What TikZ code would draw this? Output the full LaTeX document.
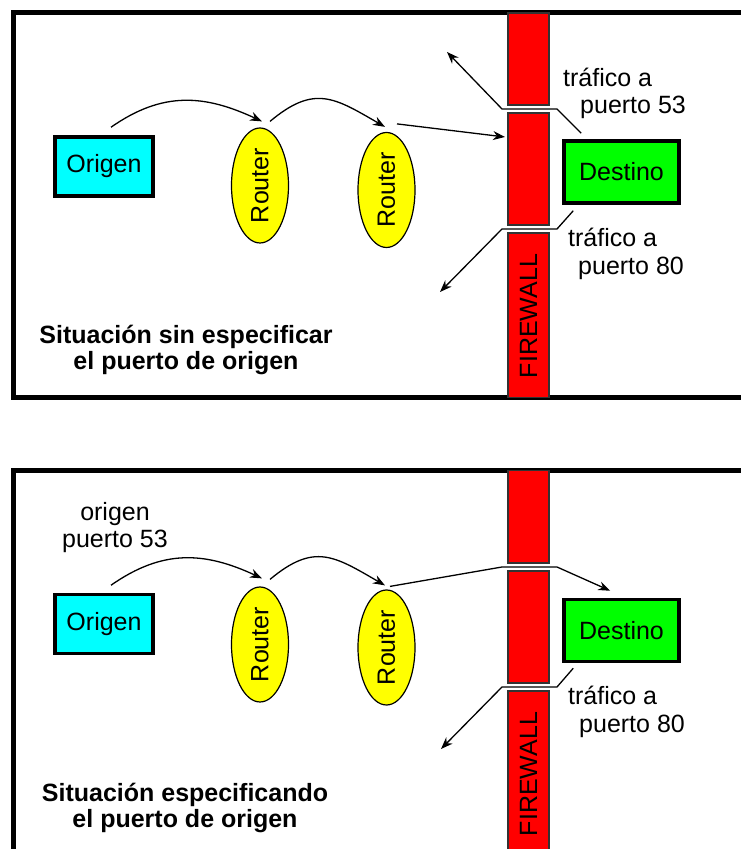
\documentclass[tikz,border=0pt]{standalone}
\usepackage{graphicx}
\usepackage{fontspec}
\setmainfont{Liberation Sans}
\usetikzlibrary{arrows.meta,positioning,shapes.geometric,calc}
\definecolor{hostcyan}{RGB}{0,255,255}
\definecolor{hostgreen}{RGB}{0,255,0}
\definecolor{routeryellow}{RGB}{255,255,0}
\definecolor{wallred}{RGB}{255,0,0}

\begin{document}
\begin{tikzpicture}[x=1pt, y=1pt,
  every node/.style={font=\fontsize{25}{27.5}\selectfont},
  frame/.style={line width=5pt},
  host/.style={draw, line width=3.5pt, minimum width=98pt, minimum height=59pt, inner sep=0pt},
  router/.style={draw, ellipse, fill=routeryellow, line width=1.2pt, minimum width=57pt, minimum height=115pt, inner sep=0pt},
  wall/.style={fill=wallred, draw=black!80, line width=1.2pt},
  hop/.style={-{Stealth[length=12pt,width=9pt]}, line width=1.3pt},
  note/.style={align=left, inner sep=0pt, anchor=west},
  caption/.style={align=center, inner sep=0pt, font=\fontsize{25}{26}\selectfont\bfseries}
]
\useasboundingbox (0,0) rectangle (740,849);
\fill[white] (0,0) rectangle (740,849);

\draw[frame] (745,836) -| (13.5,451.5) -- (745,451.5);
\draw[frame] (745,378.5) -| (13.5,-5);

\foreach \ya/\yb in {836/744, 736/624, 616/451.5, 378.5/286, 278/166, 158/-5} {
  \draw[wall] (508,\ya) rectangle (549,\yb);
}
\node[rotate=90] (fw1) at (528.5,533) {FIREWALL};
\node[rotate=90] (fw2) at (528.5,75) {FIREWALL};

\node[host, fill=hostcyan] (orig1) at (104,682.5) {Origen};
\node[router] (rA1) at (260,663.5) {\rotatebox{90}{Router}};
\node[router] (rB1) at (386.5,659) {\rotatebox{90}{Router}};
\node[host, fill=hostgreen, minimum width=115pt, minimum height=62pt] (dest1) at (621.5,677) {Destino};

\coordinate (gapA1) at (529.5,740);
\coordinate (gapB1) at (529.5,620);
\coordinate (hit1) at (505,712);
\coordinate (outA1) at (447,797);
\coordinate (outB1) at (440,557);

\draw[hop] ([shift={(7pt,8pt)}]orig1.north) to[out=35, in=155, looseness=1.07] ([shift={(2pt,6pt)}]rA1.north);
\draw[hop] ([shift={(10pt,6pt)}]rA1.north) to[out=40, in=150, looseness=1.29] ([shift={(-1.5pt,5pt)}]rB1.north);
\draw[hop] ([shift={(10.5pt,8pt)}]rB1.north) -- (hit1);
\draw[hop] ([shift={(19pt,6pt)}]dest1.north west) -- ([xshift=27.5pt]gapA1) -- ([xshift=-27.5pt]gapA1) -- (outA1);
\draw[hop] ([shift={(11pt,-6pt)}]dest1.south west) -- ([xshift=27.5pt]gapB1) -- ([xshift=-27.5pt]gapB1) -- (outB1);

\node[note] (t53) at (563,755.5) {tráfico a\\\hspace*{17pt}puerto 53};
\node[note] (t80a) at (568,595) {tráfico a\\\hspace*{10pt}puerto 80};
\node[caption] (cap1) at (186,499) {Situación sin especificar\\el puerto de origen};

\node[host, fill=hostcyan] (orig2) at (104,225) {Origen};
\node[router] (rA2) at (260,204.5) {\rotatebox{90}{Router}};
\node[router] (rB2) at (386.5,201.5) {\rotatebox{90}{Router}};
\node[host, fill=hostgreen, minimum width=115pt, minimum height=62pt] (dest2) at (621.5,218.5) {Destino};

\coordinate (gapA2) at (529.5,282);
\coordinate (gapB2) at (529.5,162);
\coordinate (outB2) at (441,100);

\node[align=center, inner sep=0pt] (src53) at (115,321.5) {origen\\puerto 53};
\draw[hop] ([shift={(7pt,7.5pt)}]orig2.north) to[out=35, in=155, looseness=1.07] ([shift={(2pt,8pt)}]rA2.north);
\draw[hop] ([shift={(10pt,7pt)}]rA2.north) to[out=40, in=150, looseness=1.29] ([shift={(-1.5pt,4pt)}]rB2.north);
\draw[hop] ([shift={(3.5pt,3pt)}]rB2.north) -- ([xshift=-27.5pt]gapA2) -- ([xshift=27.5pt]gapA2) -- ([shift={(48pt,7pt)}]dest2.north west);
\draw[hop] ([shift={(11pt,-5pt)}]dest2.south west) -- ([xshift=27.5pt]gapB2) -- ([xshift=-27.5pt]gapB2) -- (outB2);

\node[note] (t80b) at (568,137) {tráfico a\\\hspace*{11pt}puerto 80};
\node[caption] (cap2) at (185,41) {Situación especificando\\el puerto de origen};
\end{tikzpicture}
\end{document}
